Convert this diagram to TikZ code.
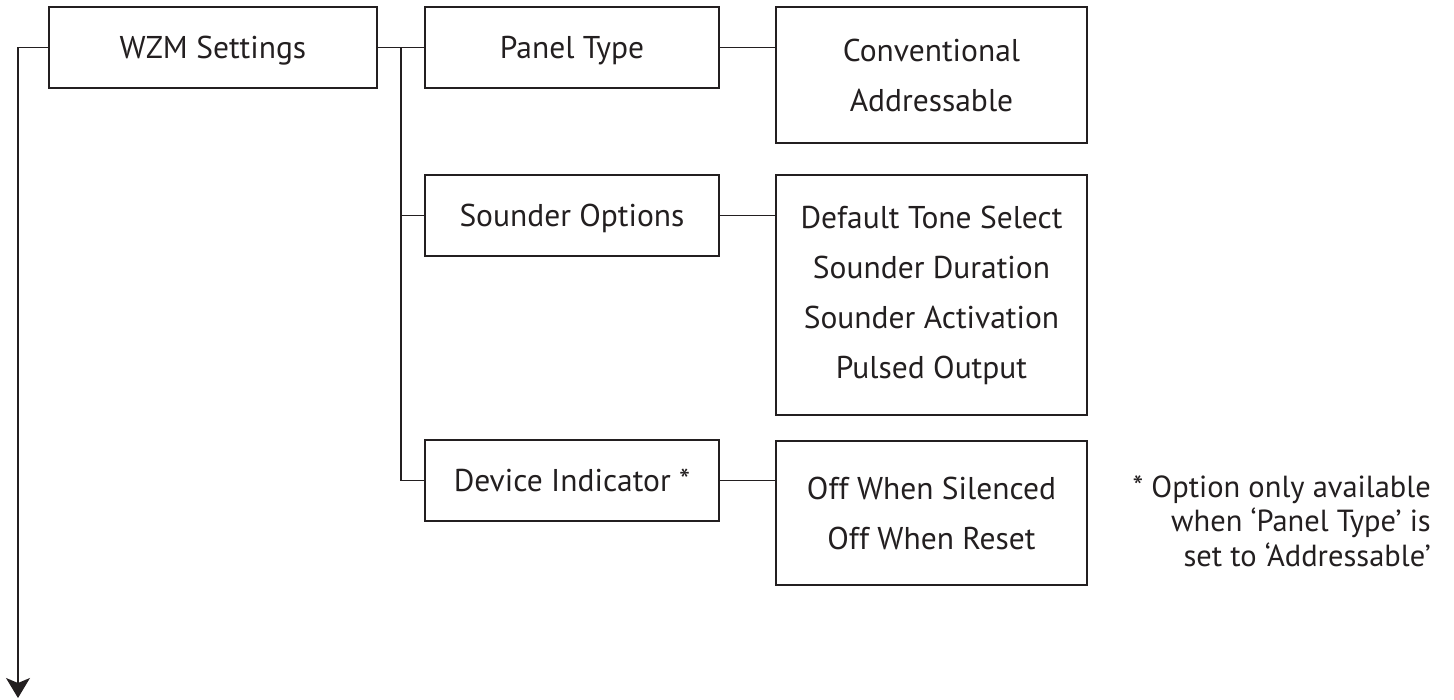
\documentclass[tikz,border=0pt]{standalone}
\usepackage{fontspec}
\setmainfont{PT Sans}
\usetikzlibrary{arrows.meta}
\definecolor{ink}{RGB}{35,31,32}
\begin{document}
\begin{tikzpicture}[x=1pt,y=-1pt,
  every node/.style={text=ink},
  menubox/.style={draw=ink,line width=1.5pt,inner sep=0pt,align=center,
    font=\fontsize{31.5}{50}\selectfont},
  itembox/.style={menubox,minimum width=294pt,minimum height=81pt,
    text height=24pt,text depth=2pt},
  listbox/.style={menubox,minimum width=311pt},
  conn/.style={draw=ink,line width=1.5pt},
  notetext/.style={inner sep=0pt,align=right,font=\fontsize{30.5}{34.5}\selectfont}]
\useasboundingbox (0,0) rectangle (1454,700);
\node[itembox,minimum width=328pt] (wzm) at (213,47.5) {WZM Settings};
\node[itembox] (pt) at (572,47.5) {Panel Type};
\node[listbox,minimum height=136pt] (conv) at (931.5,75) {Conventional\\Addressable};
\node[itembox] (so) at (572,215.5) {Sounder Options};
\node[listbox,minimum height=240pt] (sov) at (931.5,295) {Default Tone Select\\Sounder Duration\\Sounder Activation\\Pulsed Output};
\node[itembox] (di) at (572,480.5) {Device Indicator *};
\node[listbox,minimum height=144pt] (off) at (931.5,513) {Off When Silenced\\Off When Reset};
\node[notetext,anchor=east] (note) at (1431,521) {* Option only available\\when ‘Panel Type’ is\\set to ‘Addressable’};
\coordinate (bus) at (401,47.5);
\coordinate (down) at (18,698);
\draw[conn] (wzm.east) -- (pt.west);
\draw[conn] (bus) |- (di.west);
\draw[conn] (so.west) -| (bus);
\draw[conn] (pt.east) -- (pt.east -| conv.west);
\draw[conn] (so.east) -- (so.east -| sov.west);
\draw[conn] (di.east) -- (di.east -| off.west);
\draw[conn,-{Stealth[length=20pt,width=24pt,inset=5pt]}] (wzm.west) -| (down);
\end{tikzpicture}
\end{document}
